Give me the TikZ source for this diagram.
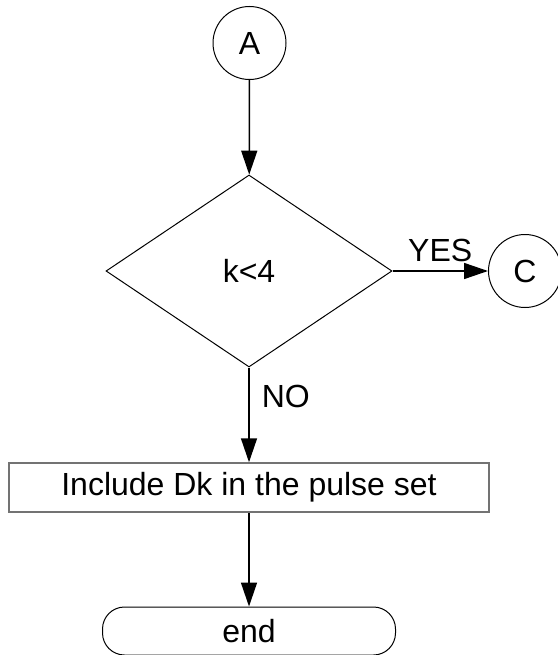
\documentclass[tikz,border=0pt]{standalone}
\usepackage{fontspec}
\setmainfont{Liberation Sans}
\usetikzlibrary{shapes.geometric,arrows.meta}

\begin{document}
\begin{tikzpicture}[x=1pt, y=1pt,
        every node/.style={font=\fontsize{32}{38}\selectfont},
        conector/.style={line width=1.5pt, -{Triangle[length=24pt, width=16pt]}},
        circulo/.style={draw, circle, line width=1pt, minimum size=73pt, inner sep=0pt},
        decision/.style={draw, diamond, line width=1pt, minimum width=286pt, minimum height=192pt, inner sep=0pt},
        proceso/.style={draw=black!55, rectangle, line width=1.5pt, minimum width=480pt, minimum height=49pt},
        terminal/.style={draw, rectangle, rounded corners=22pt, line width=1pt, minimum width=293pt, minimum height=48pt}]

    % Marco
    \useasboundingbox (0,0) rectangle (557,-655);

    % Nodos
    \node[circulo] (A) at (249.5,-43) {A};
    \node[decision] (k) at (249,-271) {k<4};
    \node[circulo] (C) at (525,-271) {C};
    \node[proceso] (incluir) at (249,-487.5) {Include Dk in the pulse set};
    \node[terminal] (fin) at (249,-631) {end};

    % Conectores
    \draw[conector] (A) -- (k);
    \draw[conector] (k.east) -- (C) node[midway, above=8pt, inner sep=0pt] {YES};
    \draw[conector] (k) -- (incluir) node[pos=0.31, right=12pt, inner sep=0pt] {NO};
    \draw[conector] (incluir) -- (fin);

\end{tikzpicture}
\end{document}
